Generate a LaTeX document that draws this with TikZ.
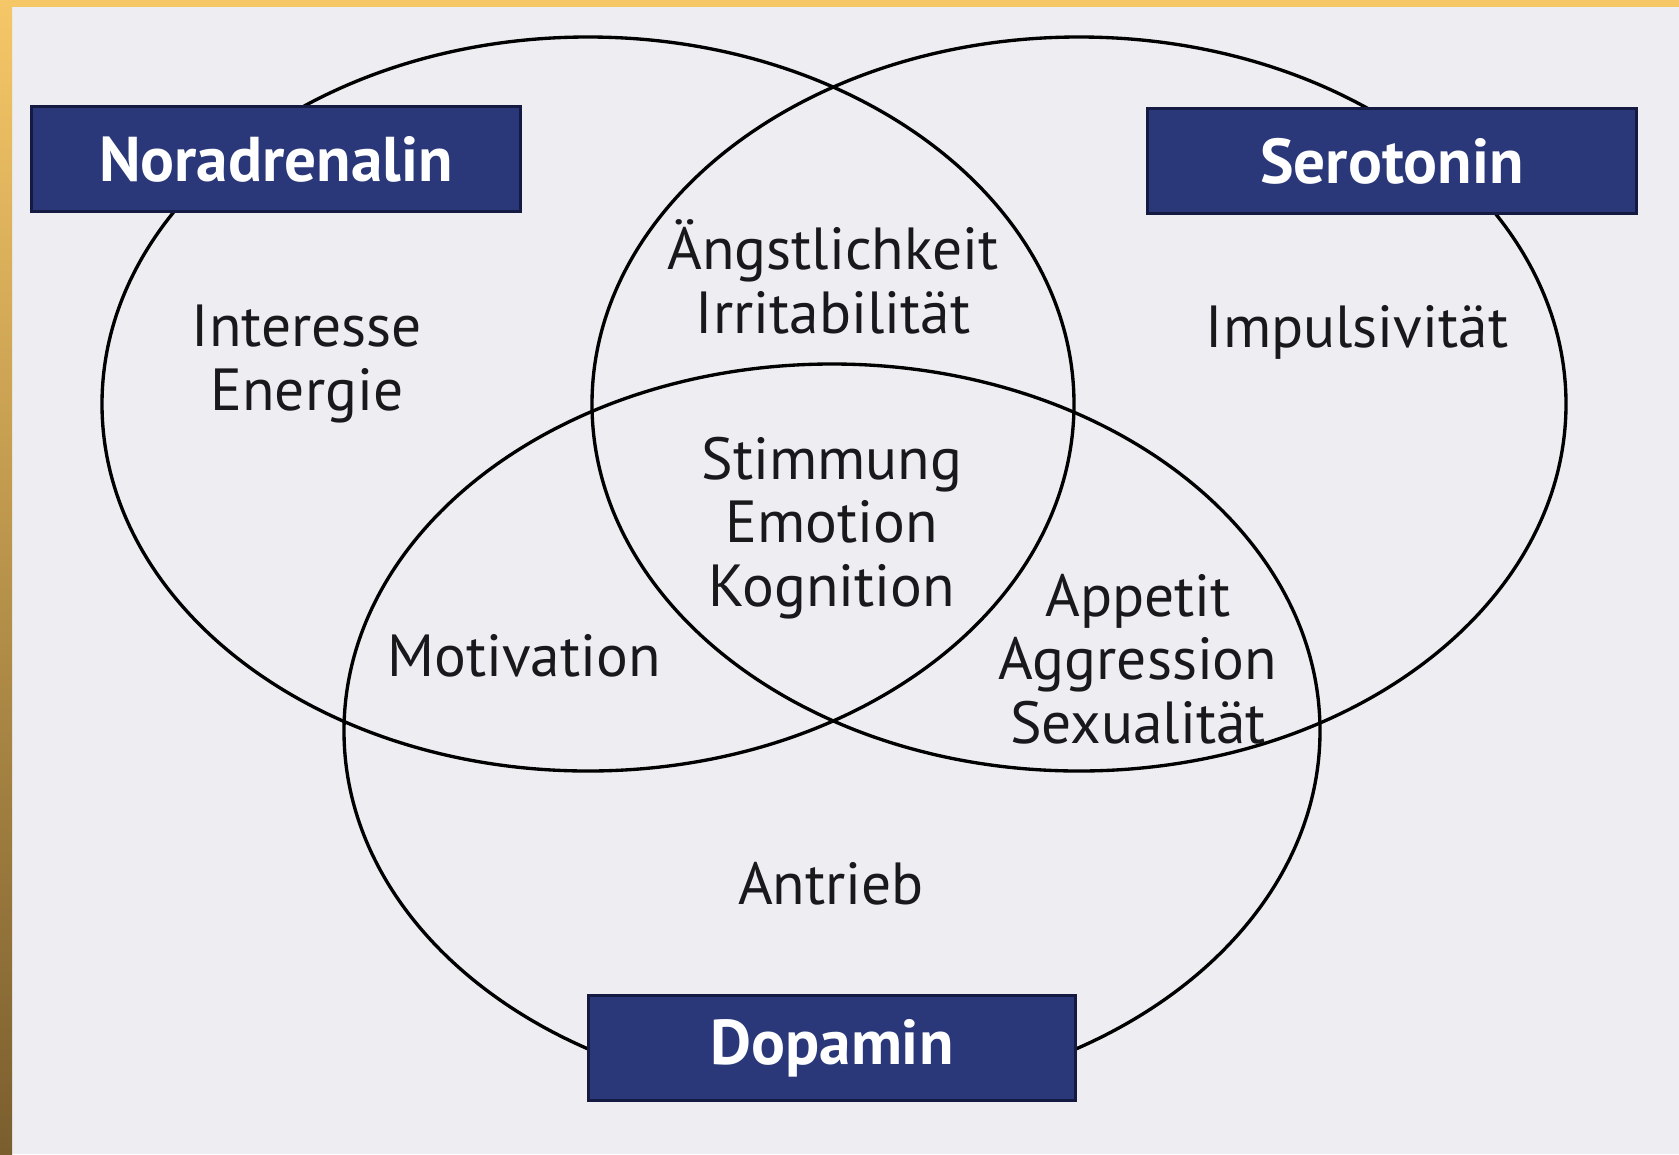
\documentclass[tikz,border=0pt]{standalone}
\usepackage{fontspec}
\setmainfont{PT Sans}
\definecolor{bg}{RGB}{237,237,242}
\definecolor{navy}{RGB}{42,56,122}
\definecolor{navydark}{RGB}{20,26,66}
\definecolor{goldtop}{RGB}{246,199,103}
\definecolor{goldbot}{RGB}{122,94,46}
\definecolor{ink}{RGB}{25,25,28}
\begin{document}
\begin{tikzpicture}[x=0.01cm,y=-0.01cm,
  ring/.style={draw=black, line width=0.95pt},
  ntbox/.style={rectangle, fill=navy, draw=navydark, line width=0.9pt, inner sep=0pt,
    minimum width=4.88cm, minimum height=1.05cm, text=white,
    font=\fontsize{18}{20}\selectfont\bfseries},
  lbl/.style={align=center, inner sep=0pt, text=ink,
    font=\fontsize{16.9}{18.1}\selectfont}]
\useasboundingbox (0,0) rectangle (1679,1154);
% background and frame
\fill[bg] (0,0) rectangle (1679,1154);
\fill[goldtop] (0,0) rectangle (1679,7);
\shade[top color=goldtop, bottom color=goldbot] (0,0) rectangle (12,1154);
% circles
\draw[ring] (588,404) ellipse [x radius=486, y radius=367];
\draw[ring] (1079,404) ellipse [x radius=487, y radius=367];
\draw[ring] (832,731) ellipse [x radius=488, y radius=367];
% title boxes
\node[ntbox] (nor) at (276,159) {Noradrenalin};
\node[ntbox] (ser) at (1392,161) {Serotonin};
\node[ntbox, minimum width=4.87cm] (dop) at (832,1048) {Dopamin};
% region labels
\node[lbl] (interesse) at (307,364) {Interesse\\Energie};
\node[lbl] (angst) at (833,277) {Ängstlichkeit\\Irritabilität};
\node[lbl] (impuls) at (1357,332) {Impulsivität};
\node[lbl] (stimm) at (832,528) {Stimmung\\Emotion\\Kognition};
\node[lbl] (motiv) at (524,656) {Motivation};
\node[lbl] (appetit) at (1138,659) {Appetit\\Aggression\\Sexualität};
\node[lbl] (antrieb) at (831,884) {Antrieb};
\end{tikzpicture}
\end{document}
